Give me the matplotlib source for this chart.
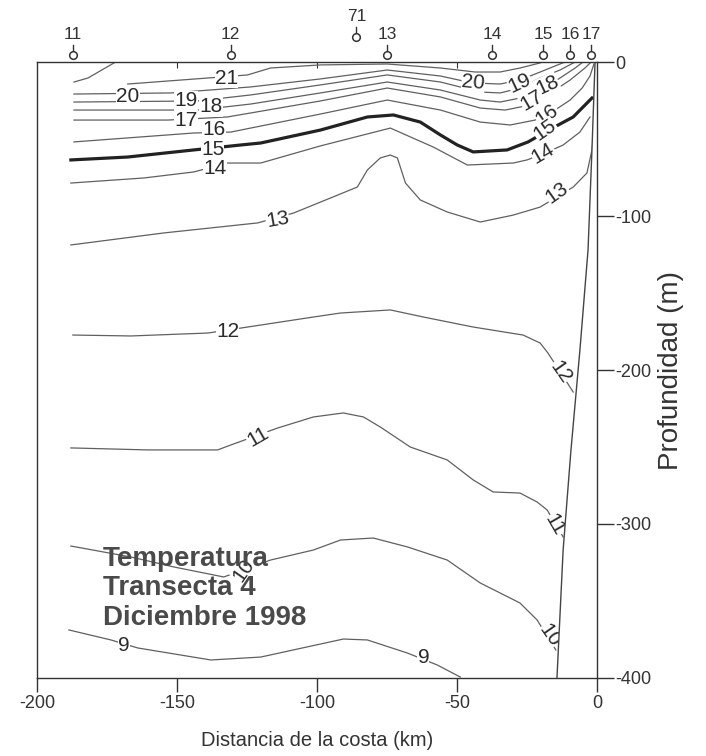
import matplotlib.pyplot as plt

plt.rcParams['font.family'] = ['Liberation Sans', 'DejaVu Sans']
plt.rcParams['axes.unicode_minus'] = False

# stations along the transect (distance from the coast, km)
station_names = ['11', '12', '71', '13', '14', '15', '16', '17']
station_dist = [-187.2, -130.8, -85.9, -74.9, -37.4, -19.3, -9.6, -2.1]
station_raised = [False, False, True, False, False, False, False, False]

# isotherms read from the section: distance (km), depth (m)
t21a_x = [-186.8, -181.8, -172.5]
t21a_z = [-13.0, -10.4, -0.6]
t21b_x = [-167.6, -139.0, -124.8, -116.6, -98.8, -74.9, -55.9, -43.5, -34.6, -27.5, -20.3]
t21b_z = [-14.3, -10.4, -8.4, -3.9, -1.9, -1.3, -3.9, -6.5, -6.5, -3.9, -0.6]
t20_x = [-186.8, -152.2, -123.7, -98.8, -74.9, -55.9, -44.6, -34.6, -27.5, -20.3, -15.0, -11.4]
t20_z = [-20.8, -20.1, -16.2, -11.0, -5.2, -9.1, -13.6, -14.3, -11.7, -6.5, -2.6, 0.0]
t19_x = [-186.8, -142.6, -123.7, -98.8, -74.9, -55.9, -41.7, -34.6, -27.5, -20.3, -13.2, -7.8]
t19_z = [-26.0, -25.3, -21.4, -14.9, -8.4, -13.0, -19.5, -20.1, -16.9, -10.4, -5.2, 0.0]
t18_x = [-186.8, -142.6, -123.7, -98.8, -74.9, -55.9, -41.7, -34.6, -23.9, -17.8, -13.2, -7.8, -5.0]
t18_z = [-31.2, -31.2, -27.3, -20.1, -13.0, -18.2, -24.7, -26.0, -22.1, -15.6, -10.4, -3.9, 0.0]
t17_x = [-186.8, -153.3, -132.0, -123.7, -98.8, -74.9, -55.9, -41.7, -32.8, -25.7, -20.3, -15.0, -9.6, -4.3, -2.1]
t17_z = [-37.7, -37.7, -35.7, -33.1, -25.3, -16.9, -22.7, -29.9, -31.2, -28.6, -23.4, -18.2, -11.7, -3.9, 0.0]
t16_x = [-186.8, -144.0, -130.8, -123.7, -98.8, -74.9, -55.9, -41.7, -31.0, -22.1, -15.0, -9.6, -5.3, -2.5, -1.1]
t16_z = [-51.9, -46.1, -45.5, -42.9, -33.8, -24.7, -31.2, -39.0, -40.9, -37.7, -31.2, -24.7, -16.9, -9.1, -1.3]
t15_x = [-187.9, -167.6, -144.0, -127.3, -120.1, -98.8, -82.0, -72.7, -63.1, -55.9, -49.9, -44.2,
         -32.1, -24.6, -18.5, -12.5, -8.5, -1.8]
t15_z = [-63.6, -61.7, -57.1, -53.9, -52.6, -44.2, -35.7, -34.4, -39.0, -47.4, -53.9, -58.4,
         -57.1, -51.9, -45.5, -39.6, -35.7, -23.4]
t14_x = [-187.9, -161.8, -144.0, -132.0, -120.1, -98.8, -73.8, -58.5, -46.3, -29.9, -25.0, -18.5, -12.1, -6.1, -2.5]
t14_z = [-78.6, -75.3, -71.4, -65.6, -65.6, -54.5, -42.9, -55.2, -66.9, -65.6, -63.6, -59.1, -53.9, -45.5, -35.7]
t13_x = [-187.9, -154.7, -121.2, -108.4, -85.6, -82.0, -77.4, -73.8, -71.3, -68.4, -63.1, -53.5,
         -41.7, -29.9, -20.3, -8.5, -3.6, -1.8, -1.4]
t13_z = [-118.8, -111.0, -104.5, -98.1, -81.2, -70.1, -62.3, -60.4, -62.3, -78.6, -89.6, -97.4,
         -103.9, -99.4, -94.2, -81.2, -72.1, -57.1, -50.6]
t12_x = [-187.2, -166.5, -139.0, -124.8, -101.3, -91.6, -73.8, -62.0, -44.2, -26.4, -20.3, -17.5, -8.5]
t12_z = [-177.3, -177.9, -176.0, -172.1, -165.6, -163.0, -161.0, -165.6, -172.1, -177.3, -182.5, -189.0, -214.3]
t11_x = [-187.9, -160.4, -135.5, -130.8, -114.1, -101.3, -90.6, -83.4, -77.4, -66.7, -53.5, -44.2,
         -37.1, -27.5, -21.4, -17.8, -12.1]
t11_z = [-250.6, -251.9, -251.9, -248.7, -237.7, -230.5, -227.9, -230.5, -237.0, -250.0, -258.4, -271.4,
         -279.2, -279.9, -285.7, -290.9, -308.4]
t10_x = [-187.9, -166.5, -151.1, -133.3, -116.6, -101.3, -91.6, -79.9, -67.7, -53.5, -41.7, -27.5, -21.4, -14.7]
t10_z = [-314.3, -321.4, -327.9, -334.4, -323.4, -316.9, -310.4, -309.1, -314.9, -323.4, -338.3, -351.3, -362.3, -381.8]
t9_x = [-188.6, -173.6, -164.0, -137.9, -120.1, -90.6, -82.0, -67.7, -57.0, -48.8]
t9_z = [-368.8, -375.3, -380.5, -388.3, -386.4, -374.7, -375.3, -383.8, -391.6, -399.4]

# contour labels
label_text = ['21', '20', '20', '19', '19', '18', '18', '17', '17', '16', '16', '15', '15',
              '14', '14', '13', '13', '12', '12', '11', '11', '10', '10', '9', '9']
label_x = [-132.3, -167.6, -44.2, -146.9, -27.5, -137.9, -17.8, -146.9, -23.2, -136.9, -17.8, -137.3, -18.5,
           -136.5, -19.3, -114.1, -14.3, -131.9, -13.2, -121.2, -15.0, -126.2, -16.8, -169.0, -62.0]
label_z = [-10.4, -22.7, -13.6, -25.3, -13.6, -29.2, -14.9, -37.7, -24.7, -43.8, -34.4, -56.8, -44.2,
           -69.3, -59.1, -102.6, -85.1, -175.3, -201.3, -243.5, -300.6, -329.9, -372.1, -378.6, -387.0]
label_rot = [0, 0, -5, 0, 25, 0, 25, 0, 30, 0, 35, 0, 35,
             0, 30, 10, 35, 0, -55, 30, -60, 55, -55, 0, 0]

# sea floor
bottom_x = [-0.7, -1.8, -3.2, -6.1, -9.3, -12.1, -14.3]
bottom_z = [0, -57, -122, -187, -252, -317, -400]

xticks = [-200, -150, -100, -50, 0]
xtick_labels = ['-200', '-150', '-100', '-50', '0']
yticks = [0, -100, -200, -300, -400]
ytick_labels = ['0', '-100', '-200', '-300', '-400']

isotherms = [
    (21, t21a_x, t21a_z), (21, t21b_x, t21b_z), (20, t20_x, t20_z), (19, t19_x, t19_z),
    (18, t18_x, t18_z), (17, t17_x, t17_z), (16, t16_x, t16_z), (15, t15_x, t15_z),
    (14, t14_x, t14_z), (13, t13_x, t13_z), (12, t12_x, t12_z), (11, t11_x, t11_z),
    (10, t10_x, t10_z), (9, t9_x, t9_z),
]

fig = plt.figure(figsize=(7.06, 7.56), dpi=100)
ax = fig.add_axes([37 / 706, 1 - 678 / 756, 560 / 706, 616 / 756])

for temp, xs, zs in isotherms:
    if temp == 15:
        ax.plot(xs, zs, color='#222222', lw=2.3, zorder=2)
    else:
        ax.plot(xs, zs, color='#606060', lw=0.9, zorder=2)

for txt, x, z, r in zip(label_text, label_x, label_z, label_rot):
    ax.text(x, z, txt, fontsize=15, color='#2a2a2a', ha='center', va='center',
            rotation=r, rotation_mode='anchor', zorder=3,
            bbox=dict(facecolor='white', edgecolor='none', pad=0.1))

# land side of the sea floor
ax.fill_betweenx(bottom_z, bottom_x, 0, color='white', zorder=4)
ax.plot(bottom_x, bottom_z, color='#444444', lw=1.0, zorder=5)

# station markers above the frame
for name, d, raised in zip(station_names, station_dist, station_raised):
    zc = 16.2 if raised else 4.5
    ax.plot([d, d], [zc + 2.6, zc + 6.5], color='#333333', lw=1.0, clip_on=False, zorder=6)
    ax.plot(d, zc, 'o', ms=5.5, mfc='white', mec='#333333', mew=1.1, clip_on=False, zorder=6)
    ax.text(d, zc + 13.2, name, fontsize=12.5, color='#333333', ha='center', va='center')

ax.text(-176.5, -327.3, 'Temperatura', fontsize=20, fontweight='bold', color='#4a4a4a', zorder=7)
ax.text(-176.5, -346.1, 'Transecta 4', fontsize=20, fontweight='bold', color='#4a4a4a', zorder=7)
ax.text(-176.5, -365.6, 'Diciembre 1998', fontsize=20, fontweight='bold', color='#4a4a4a', zorder=7)

ax.set_xlim(-200, 0)
ax.set_ylim(-400, 0)
ax.set_xticks(xticks)
ax.set_xticklabels(xtick_labels)
ax.set_yticks(yticks)
ax.set_yticklabels(ytick_labels)
ax.yaxis.tick_right()
ax.yaxis.set_label_position('right')
ax.tick_params(axis='x', direction='out', length=10, width=1, pad=2, labelsize=13, colors='#333333')
ax.tick_params(axis='y', direction='out', length=12, width=1, pad=1, labelsize=13, colors='#333333')

top = ax.secondary_xaxis('top')
top.set_xticks([-150, -100, -50])
top.tick_params(direction='in', length=4, labeltop=False, colors='#333333')
top.spines['top'].set_visible(False)

for s in ax.spines.values():
    s.set_color('#333333')
    s.set_linewidth(1.0)
    s.set_zorder(8)

ax.set_xlabel('Distancia de la costa (km)', fontsize=14.5, color='#333333', labelpad=14)
ax.set_ylabel('Profundidad (m)', fontsize=20, color='#333333', labelpad=5)

fig.savefig('out.png', dpi=100)
